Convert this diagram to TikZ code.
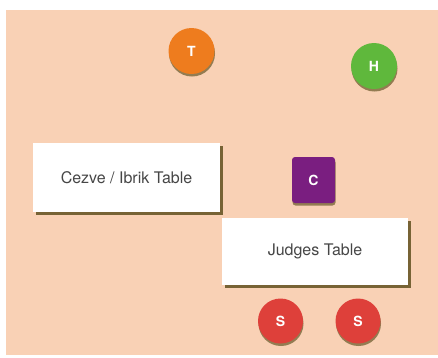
\documentclass[tikz,border=0pt]{standalone}
\usepackage{fontspec}
\setsansfont{TeX Gyre Heros}
\usetikzlibrary{shadows}
\definecolor{floor}{RGB}{249,209,181}
\definecolor{shade}{RGB}{105,88,40}
\definecolor{cup}{RGB}{238,124,30}
\definecolor{herb}{RGB}{95,184,60}
\definecolor{cezve}{RGB}{122,30,128}
\definecolor{sensory}{RGB}{222,64,58}
\definecolor{label}{RGB}{70,70,70}

\begin{document}
\begin{tikzpicture}[
        x=1pt, y=-1pt,
        table/.style={rectangle, fill=white, inner sep=0pt,
            font=\sffamily\fontsize{16}{18}\selectfont, text=label,
            drop shadow={shadow xshift=3pt, shadow yshift=-3pt,
                fill=shade, opacity=.9}},
        token/.style={inner sep=0pt, text=white,
            font=\sffamily\bfseries\fontsize{14}{16}\selectfont,
            drop shadow={shadow xshift=.5pt, shadow yshift=-2.5pt,
                fill=shade, opacity=.7}},
        person/.style={token, circle, minimum size=46pt},
        every node/.style={outer sep=0pt},
    ]

    \useasboundingbox (0,0) rectangle (438,357);
    \fill[floor] (6,10) rectangle (438,355);

    % tables
    \node[table, minimum width=187pt, minimum height=69pt]
        at (126.5,177.5) (cezvetable) {Cezve / Ibrik Table};
    \node[table, minimum width=186pt, minimum height=67pt]
        at (315,251.5) (judgestable) {Judges Table};

    % people
    \node[person, fill=cup] at (191.5,51) (timer) {T};
    \node[person, fill=herb] at (374,66) (head) {H};
    \node[token, fill=cezve, rectangle, rounded corners=3pt,
        minimum width=43pt, minimum height=46pt] at (313.5,180) (comp) {C};
    \node[person, fill=sensory, minimum size=45pt] at (280.5,321) (sens1) {S};
    \node[person, fill=sensory, minimum size=45pt] at (358,321) (sens2) {S};

\end{tikzpicture}
\end{document}
